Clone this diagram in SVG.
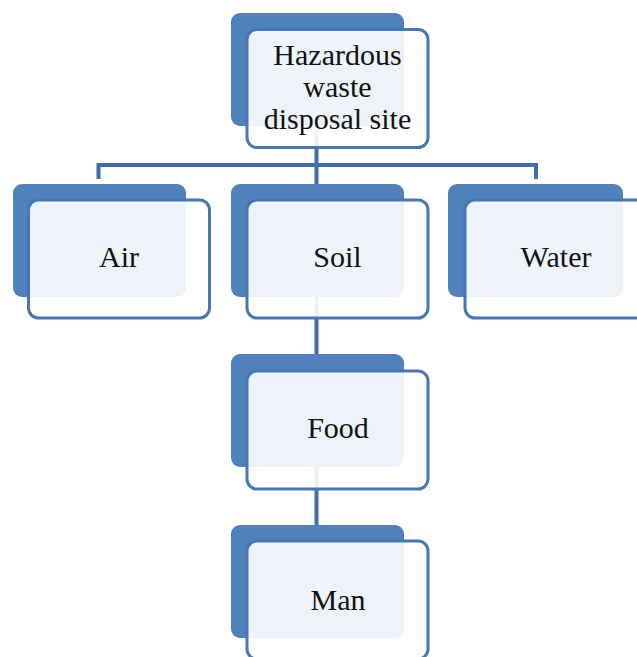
<svg xmlns="http://www.w3.org/2000/svg" width="637" height="657" viewBox="0 0 637 657">
<style>
.back{fill:#4F81BD;}
.front{fill:#FFFFFF;fill-opacity:0.9;stroke:#4677B4;stroke-width:3;}
.lbl{font-family:"Liberation Serif","Times New Roman",serif;font-size:30px;fill:#111111;text-anchor:middle;}
.conn{stroke:#3F6EA9;stroke-width:4;fill:none;}
</style>
<rect width="637" height="657" fill="#FFFFFF"/>
<g id="connectors">
<path class="conn" d="M316.5 126 V165 M98.5 165 H536 M98.5 163 V179 M316.5 165 V184 M536 163 V179"/>
<path class="conn" d="M316.5 297 V354"/>
<path class="conn" d="M316.5 467 V525"/>
</g>
<g id="node-hazardous">
<rect class="back" x="231" y="13" width="173" height="113" rx="9"/>
<rect class="front" x="247" y="29.5" width="181" height="118" rx="10"/>
<text class="lbl" x="337.5" y="65">Hazardous</text>
<text class="lbl" x="337.5" y="97">waste</text>
<text class="lbl" x="337.5" y="129">disposal site</text>
</g>
<g id="node-air">
<rect class="back" x="13" y="184" width="173" height="113" rx="9"/>
<rect class="front" x="28.5" y="200" width="181" height="118" rx="10"/>
<text class="lbl" x="119" y="267">Air</text>
</g>
<g id="node-soil">
<rect class="back" x="231" y="184" width="173" height="113" rx="9"/>
<rect class="front" x="247" y="200" width="181" height="118" rx="10"/>
<text class="lbl" x="337.5" y="267">Soil</text>
</g>
<g id="node-water">
<rect class="back" x="448" y="184" width="175" height="113" rx="9"/>
<rect class="front" x="465" y="200" width="181" height="118" rx="10"/>
<text class="lbl" x="556" y="267">Water</text>
</g>
<g id="node-food">
<rect class="back" x="231" y="354" width="173" height="113" rx="9"/>
<rect class="front" x="247" y="371" width="181" height="118" rx="10"/>
<text class="lbl" x="338" y="438">Food</text>
</g>
<g id="node-man">
<rect class="back" x="231" y="525" width="173" height="113" rx="9"/>
<rect class="front" x="247" y="541" width="181" height="118" rx="10"/>
<text class="lbl" x="338" y="610">Man</text>
</g>
</svg>
